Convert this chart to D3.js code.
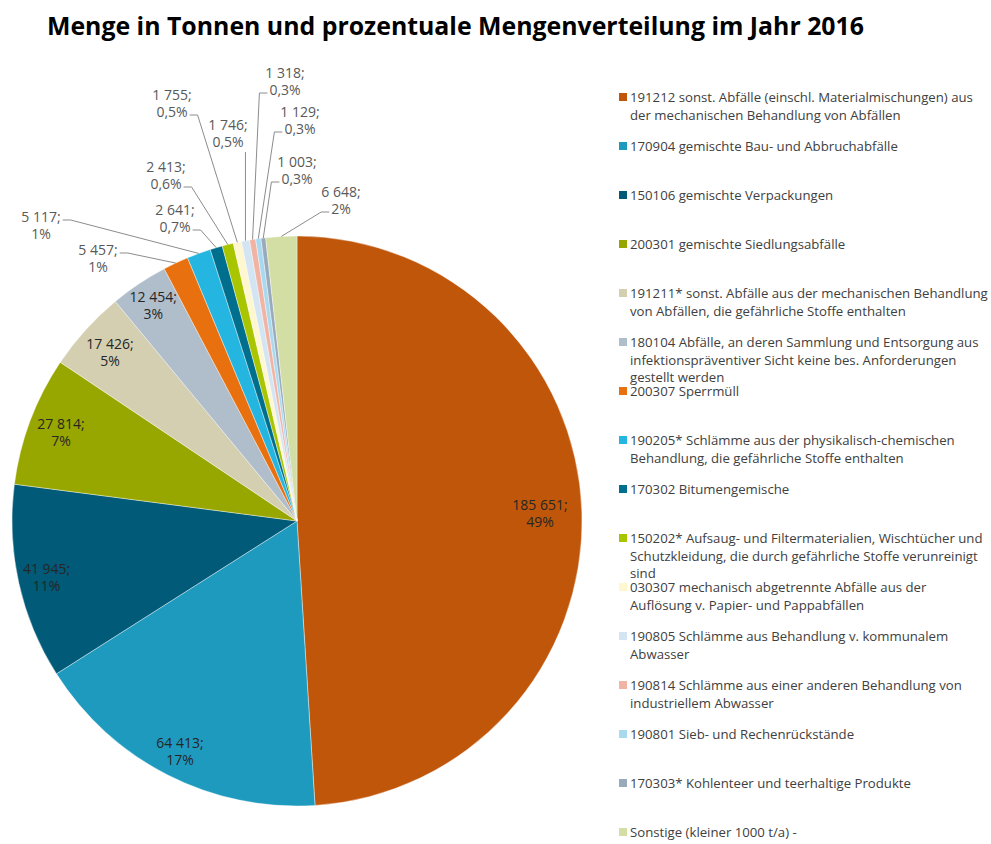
<!DOCTYPE html>
<html lang="de">
<head>
<meta charset="utf-8">
<title>Mengenverteilung 2016</title>
<script src="https://cdn.jsdelivr.net/npm/d3@7/dist/d3.min.js"></script>
<style>
  html, body { margin: 0; padding: 0; background: #fff; }
  #chart { width: 991px; height: 844px; }
</style>
</head>
<body>
<div id="chart"></div>
<script>
// =========================================================
//  Menge in Tonnen – Pie chart with callouts + legend
// =========================================================
const codes = ['191212', '170904', '150106', '200301', '191211*', '180104', '200307', '190205*',
  '170302', '150202*', '030307', '190805', '190814', '190801', '170303*', 'Sonstige'];

const legendLines = [
  ['191212 sonst. Abfälle (einschl. Materialmischungen) aus', 'der mechanischen Behandlung von Abfällen'],
  ['170904 gemischte Bau- und Abbruchabfälle'],
  ['150106 gemischte Verpackungen'],
  ['200301 gemischte Siedlungsabfälle'],
  ['191211* sonst. Abfälle aus der mechanischen Behandlung', 'von Abfällen, die gefährliche Stoffe enthalten'],
  ['180104 Abfälle, an deren Sammlung und Entsorgung aus', 'infektionspräventiver Sicht keine bes. Anforderungen', 'gestellt werden'],
  ['200307 Sperrmüll'],
  ['190205* Schlämme aus der physikalisch-chemischen', 'Behandlung, die gefährliche Stoffe enthalten'],
  ['170302 Bitumengemische'],
  ['150202* Aufsaug- und Filtermaterialien, Wischtücher und', 'Schutzkleidung, die durch gefährliche Stoffe verunreinigt', 'sind'],
  ['030307 mechanisch abgetrennte Abfälle aus der', 'Auflösung v. Papier- und Pappabfällen'],
  ['190805 Schlämme aus Behandlung v. kommunalem', 'Abwasser'],
  ['190814 Schlämme aus einer anderen Behandlung von', 'industriellem Abwasser'],
  ['190801 Sieb- und Rechenrückstände'],
  ['170303* Kohlenteer und teerhaltige Produkte'],
  ['Sonstige (kleiner 1000 t/a) -']
];

// tonnes per year
const tonnes = [185651, 64413, 41945, 27814, 17426, 12454, 5457, 5117,
  2641, 2413, 1755, 1746, 1318, 1129, 1003, 6648];

const colors = ['#C0560A', '#1F9ABF', '#005A78', '#98A700', '#D4CFB0', '#B0BDCA', '#E8700E', '#24B6E0',
  '#006F8E', '#A9C500', '#FFF7CF', '#D3E5F3', '#F1B4A4', '#A8D9EF', '#98AABC', '#D3DEA4'];

// inside labels: distance from centre as share of radius
const insideR = [0.853, 0.905, 0.90, 0.885, 0.885, 0.91];

// outside labels: offset of text centre / first baseline from pie centre, line to hook
const callouts = [
  { i: 6,  dx: -199, dy: -266, hook: 0 },
  { i: 7,  dx: -256, dy: -299, hook: 0 },
  { i: 8,  dx: -122, dy: -306, hook: 1 },
  { i: 9,  dx: -131, dy: -349, hook: 1 },
  { i: 10, dx: -125, dy: -421, hook: 1 },
  { i: 11, dx: -69,  dy: -391, hook: 1 },
  { i: 12, dx: -12,  dy: -443, hook: 1 },
  { i: 13, dx: 3,    dy: -404, hook: 1 },
  { i: 14, dx: 0,    dy: -354, hook: 1 },
  { i: 15, dx: 44,   dy: -324, hook: 1 }
];

const W = 991, H = 844;
const cx = 297, cy = 521, R = 285;
const FONT = '"Open Sans", "Noto Sans", sans-serif';

const loc = d3.formatLocale({ decimal: ',', thousands: ' ', grouping: [3], currency: ['', ''] });
const fmtNum = loc.format(',d');
const total = d3.sum(tonnes);
const fmtPct = v => {
  const p = v / total * 100;
  return (p < 1 ? loc.format('.1f')(p) : loc.format('.0f')(p)) + '%';
};

const svg = d3.select('#chart').append('svg')
  .attr('width', W).attr('height', H)
  .attr('viewBox', `0 0 ${W} ${H}`);

// title
svg.append('text')
  .attr('x', 47).attr('y', 35)
  .attr('font-family', FONT)
  .attr('font-weight', 700)
  .attr('font-size', 25)
  .attr('fill', '#000')
  .attr('textLength', 817)
  .attr('lengthAdjust', 'spacingAndGlyphs')
  .text('Menge in Tonnen und prozentuale Mengenverteilung im Jahr 2016');

// pie
const pie = d3.pie().sort(null).value(d => d);
const arcs = pie(tonnes);
const arc = d3.arc().innerRadius(0).outerRadius(R);

const g = svg.append('g').attr('transform', `translate(${cx},${cy})`);
g.selectAll('path.slice')
  .data(arcs).join('path')
  .attr('class', 'slice')
  .attr('d', arc)
  .attr('fill', (d, i) => colors[i])
  .attr('stroke', '#fff')
  .attr('stroke-width', 0.4);

const mid = d => (d.startAngle + d.endAngle) / 2;
const polar = (a, r) => [Math.sin(a) * r, -Math.cos(a) * r];

// inside labels
insideR.forEach((f, i) => {
  const [x, y] = polar(mid(arcs[i]), R * f);
  const t = g.append('text')
    .attr('text-anchor', 'middle')
    .attr('font-family', FONT)
    .attr('font-size', 14)
    .attr('fill', '#262626');
  t.append('tspan').attr('x', x).attr('y', y - 3).text(fmtNum(tonnes[i]) + ';');
  t.append('tspan').attr('x', x).attr('y', y + 14).text(fmtPct(tonnes[i]));
});

// outside labels with leader lines
const LH = 17;
callouts.forEach(c => {
  const i = c.i;
  const t = g.append('text')
    .attr('text-anchor', 'middle')
    .attr('font-family', FONT)
    .attr('font-size', 14)
    .attr('fill', '#595959');
  const l1 = t.append('tspan').attr('x', c.dx).attr('y', c.dy).text(fmtNum(tonnes[i]) + ';');
  const l2 = t.append('tspan').attr('x', c.dx).attr('y', c.dy + LH).text(fmtPct(tonnes[i]));

  const [px, py] = polar(mid(arcs[i]), R);
  const lines = [l1, l2];
  const w = lines.map(s => s.node().getComputedTextLength());
  const left = c.dx - d3.max(w) / 2, right = c.dx + d3.max(w) / 2;
  let pts;
  if (px > left && px < right) {
    // straight down from below the label
    pts = [[px, c.dy + LH + 5], [px, py]];
  } else {
    const hw = w[c.hook] / 2;
    const hy = c.dy + c.hook * LH - 2;
    const side = px > c.dx ? 1 : -1;
    const x0 = c.dx + side * (hw + 2);
    pts = [[x0, hy], [x0 + side * 8, hy], [px, py]];
  }
  g.append('path')
    .attr('d', d3.line()(pts))
    .attr('fill', 'none')
    .attr('stroke', '#8C8C8C')
    .attr('stroke-width', 1);
});

// legend
const lg = svg.append('g').attr('transform', 'translate(619,0)');
const y0 = 102, step = 49, lh = 17.5;

// pick a font size so the widest legend line stays inside the frame
const probe = lg.append('text').attr('font-family', FONT).attr('font-size', 14);
const widest = d3.max(legendLines.flat(), s => probe.text(s).node().getComputedTextLength());
probe.remove();
const legendSize = Math.min(14, 14 * (W - 619 - 14) / widest);

legendLines.forEach((ls, i) => {
  const by = y0 + i * step;
  lg.append('rect')
    .attr('x', 0).attr('y', by - 9)
    .attr('width', 8).attr('height', 8)
    .attr('fill', colors[i]);
  ls.forEach((s, j) => {
    lg.append('text')
      .attr('x', 11).attr('y', by + j * lh)
      .attr('font-family', FONT)
      .attr('font-size', legendSize)
      .attr('fill', '#404040')
      .text(s);
  });
});
</script>
</body>
</html>
